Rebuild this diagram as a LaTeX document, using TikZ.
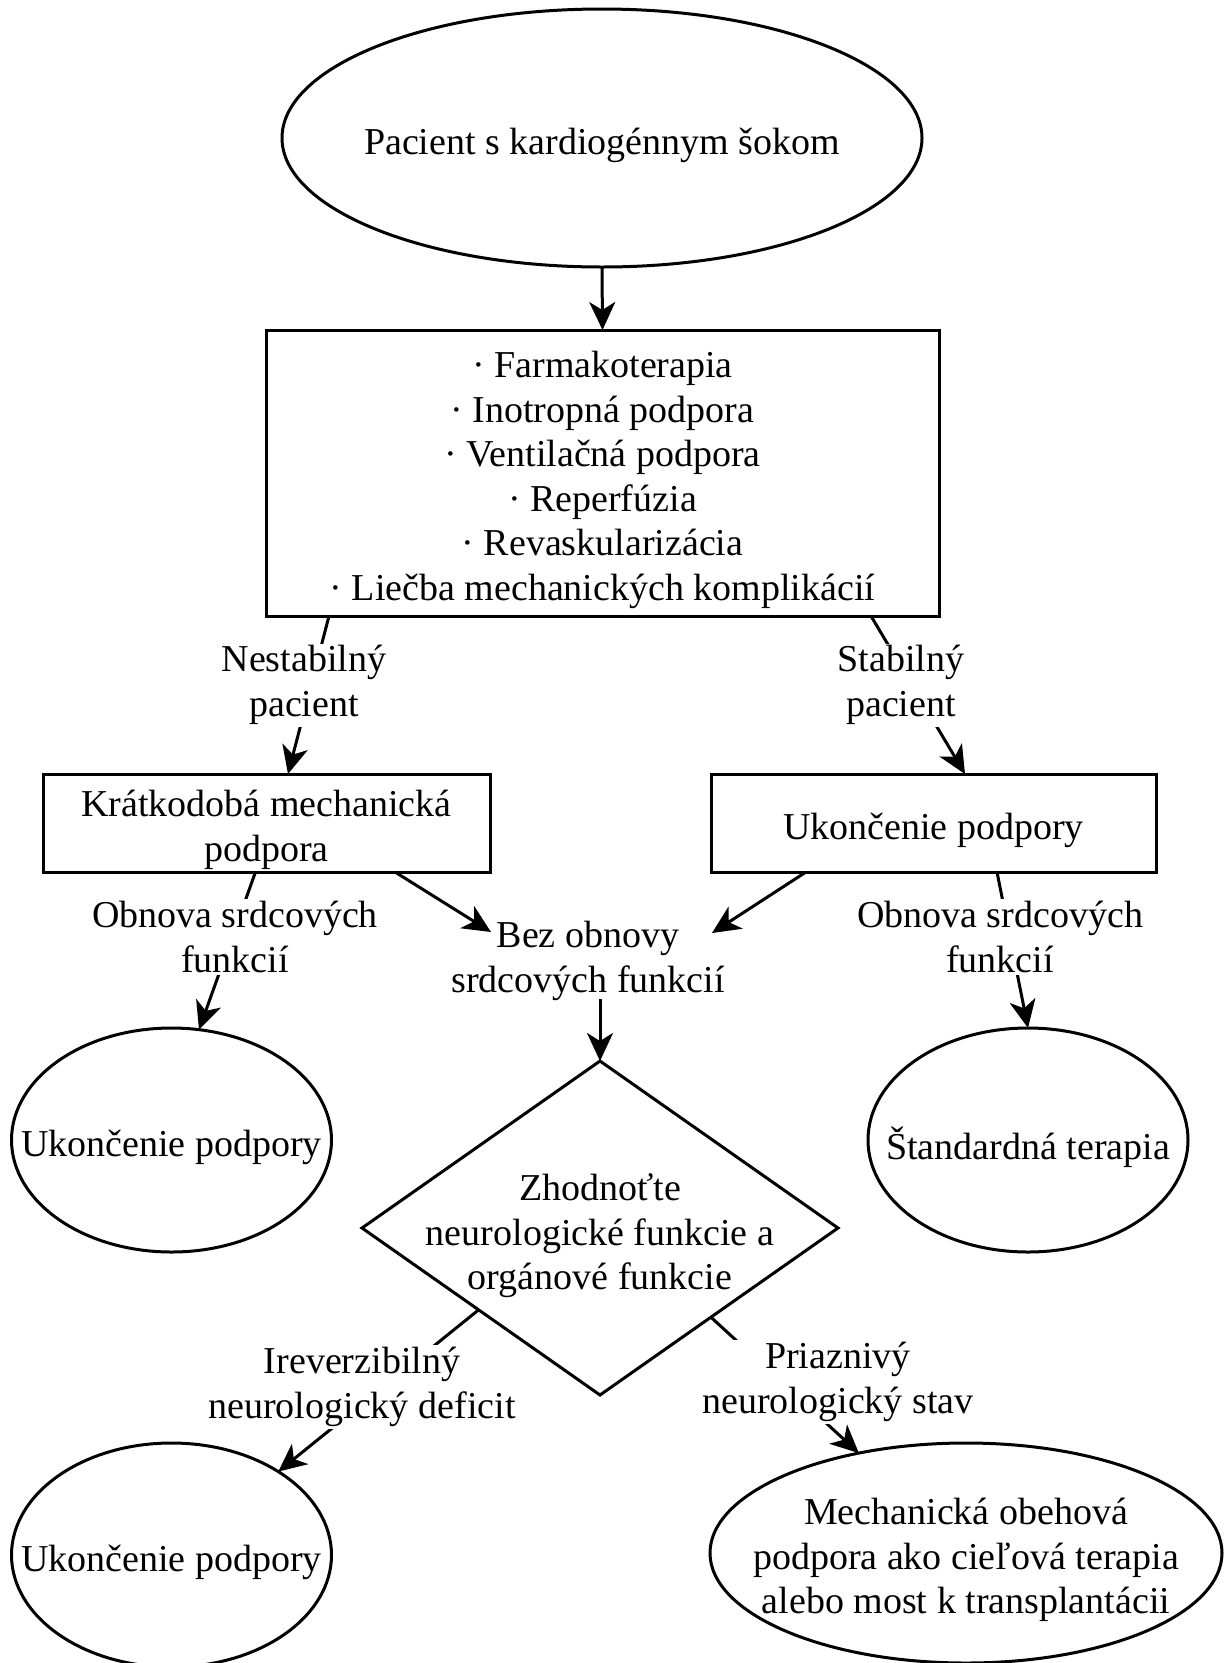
\documentclass[tikz,border=0pt]{standalone}
\usepackage{fontspec}
\setmainfont{Liberation Serif}
\usetikzlibrary{shapes.geometric,arrows.meta,calc}
\begin{document}
\begin{tikzpicture}[x=1pt,y=1pt,
  every node/.style={font=\fontsize{38}{44.5}\selectfont},
  box/.style={draw, line width=3pt, rectangle, inner sep=0pt, outer sep=0pt},
  oval/.style={draw, line width=3pt, ellipse, inner sep=0pt, outer sep=0pt},
  elabel/.style={fill=white, align=center, inner xsep=4pt, inner ysep=2pt},
  conn/.style={line width=3pt},
  arr/.style={conn, -{Stealth[length=28pt,width=26pt,inset=8pt]}},
  txt/.style={align=center, yshift=-7pt}
]
\useasboundingbox (0,0) rectangle (1226,-1663);

% nodes
\node[oval, minimum width=640pt, minimum height=258pt,
      label={[txt]center:Pacient s kardiogénnym šokom}] (top) at (602,-138) {};
\node[box, minimum width=673pt, minimum height=286pt,
      label={[txt]center:{· Farmakoterapia\\· Inotropná podpora\\· Ventilačná podpora\\· Reperfúzia\\· Revaskularizácia\\· Liečba mechanických komplikácií}}] (main) at (602.5,-473) {};
\node[box, minimum width=447pt, minimum height=98pt,
      label={[txt]center:{Krátkodobá mechanická\\podpora}}] (box2) at (266.5,-823) {};
\node[box, minimum width=445pt, minimum height=98pt,
      label={[txt]center:Ukončenie podpory}] (box3) at (933.5,-823) {};
\node[oval, minimum width=320pt, minimum height=224pt,
      label={[txt]center:Ukončenie podpory}] (ellL) at (171.5,-1140) {};
\node[oval, minimum width=320pt, minimum height=224pt,
      label={[txt]center:Štandardná terapia}] (ellR) at (1028,-1140) {};
\node[align=center, inner sep=0pt] (bez) at (588,-961) {Bez obnovy\\srdcových funkcií};
\coordinate (bezL) at (491,-932);
\coordinate (bezR) at (712,-933);
\coordinate (bezB) at (600,-999);
\node[draw, line width=3pt, diamond, inner sep=0pt, outer sep=0pt,
      minimum width=476pt, minimum height=334pt,
      label={[align=center, yshift=-8pt]center:{Zhodnoťte\\neurologické funkcie a\\orgánové funkcie}}] (dia) at (600,-1228) {};
\node[oval, minimum width=320pt, minimum height=224pt,
      label={[txt]center:Ukončenie podpory}] (ellBL) at (171.5,-1555) {};
\node[oval, minimum width=512pt, minimum height=220pt,
      label={[txt]center:{Mechanická obehová\\podpora ako cieľová terapia\\alebo most k transplantácii}}] (ellBR) at (966,-1553) {};

% connectors
\draw[arr] (top.south) -- (main.north);
\draw[arr] ([xshift=-273.5pt]main.south) -- ([xshift=21.5pt]box2.north);
\draw[arr] ([xshift=268.5pt]main.south) -- ([xshift=31.5pt]box3.north);
\draw[arr] ([xshift=-11pt]box2.south) -- (ellL.76);
\draw[arr] ([xshift=63.5pt]box3.south) -- (ellR.north);
\draw[arr] ([xshift=128.5pt]box2.south) -- (bezL);
\draw[arr] ([xshift=-127.5pt]box3.south) -- (bezR);
\draw[arr] (bezB) -- (dia.north);
\draw[arr] ($(dia.west)!0.49!(dia.south)$) -- (ellBL.38.6);
\draw[arr] ($(dia.south)!0.466!(dia.east)$) -- (ellBR.137);

% edge labels
\node[elabel] (lab1) at (304,-685) {Nestabilný\\pacient};
\node[elabel] (lab2) at (901,-685) {Stabilný\\pacient};
\node[elabel] (lab3) at (235,-937) {Obnova srdcových\\funkcií};
\node[elabel] (lab4) at (1000,-937) {Obnova srdcových\\funkcií};
\node[elabel] (lab5) at (362,-1387) {Ireverzibilný\\neurologický deficit};
\node[elabel] (lab6) at (838,-1382) {Priaznivý\\neurologický stav};
\end{tikzpicture}
\end{document}
